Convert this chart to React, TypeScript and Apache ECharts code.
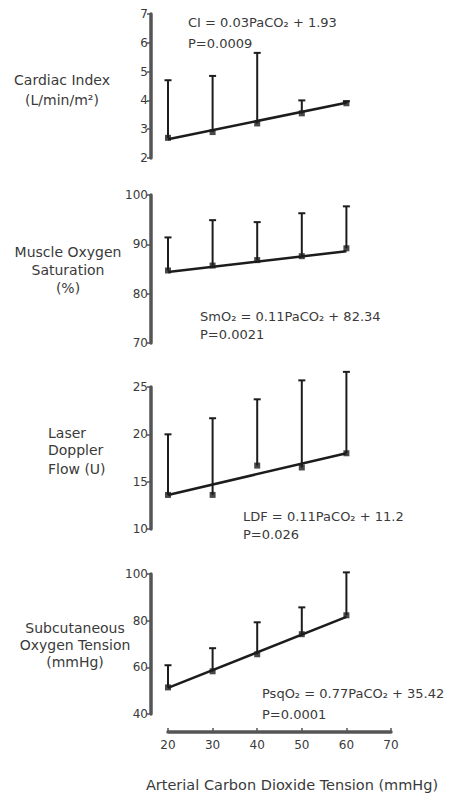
import React, { useEffect, useRef } from "react";
import * as echarts from "echarts";

const paco2 = [20, 30, 40, 50, 60];
const fitX = [20, 60];

const ciMean = [2.7, 2.9, 3.2, 3.55, 3.9];
const ciUpper = [4.7, 4.85, 5.65, 4.0, 3.97];
const ciFit = [2.65, 3.92];

const smoMean = [84.7, 85.7, 86.8, 87.6, 89.2];
const smoUpper = [91.4, 94.9, 94.5, 96.3, 97.7];
const smoFit = [84.4, 88.6];

const ldfMean = [13.6, 13.6, 16.7, 16.5, 18.0];
const ldfUpper = [20.0, 21.7, 23.7, 25.7, 26.6];
const ldfFit = [13.6, 18.0];

const psqMean = [51.4, 58.3, 65.6, 74.2, 82.3];
const psqUpper = [60.9, 68.2, 79.3, 85.7, 100.7];
const psqFit = [51.2, 81.6];

const FONT = "DejaVu Sans, Liberation Sans, sans-serif";
const TXT = "#3a3a3a";
const INK = "#1c1c1c";
const AXIS = "#555";

const panels = [
  { mean: ciMean, upper: ciUpper, fit: ciFit, min: 2, max: 7, interval: 1, top: 14, height: 144 },
  { mean: smoMean, upper: smoUpper, fit: smoFit, min: 70, max: 100, interval: 10, top: 195, height: 148 },
  { mean: ldfMean, upper: ldfUpper, fit: ldfFit, min: 10, max: 25, interval: 5, top: 387, height: 142 },
  { mean: psqMean, upper: psqUpper, fit: psqFit, min: 40, max: 100, interval: 20, top: 574, height: 140 },
];

function txt(text: string, x: number, y: number, align: string, size = 13) {
  return {
    type: "text",
    x,
    y,
    style: {
      text,
      fill: TXT,
      font: `${size}px ${FONT}`,
      textAlign: align,
      textVerticalAlign: "middle",
      verticalAlign: "middle",
    },
  };
}

export default function App() {
  const ref = useRef<HTMLDivElement>(null);
  useEffect(() => {
    if (!ref.current) return;
    const chart = echarts.init(ref.current, null, { renderer: "svg" });
    const grid: any[] = [];
    const xAxis: any[] = [];
    const yAxis: any[] = [];
    const series: any[] = [];
    panels.forEach((p, i) => {
      grid.push({ left: 168, width: 223, top: p.top, height: p.height });
      const last = i === panels.length - 1;
      xAxis.push({
        gridIndex: i,
        type: "value",
        min: 20,
        max: 70,
        interval: 10,
        show: last,
        offset: last ? 18 : 0,
        axisLine: { show: true, lineStyle: { color: AXIS, width: 3.5 } },
        axisTick: { show: true, inside: true, length: 4, lineStyle: { color: AXIS, width: 1.5 } },
        axisLabel: { color: TXT, fontSize: 12, fontFamily: FONT, margin: 7 },
        splitLine: { show: false },
      });
      yAxis.push({
        gridIndex: i,
        type: "value",
        min: p.min,
        max: p.max,
        interval: p.interval,
        offset: 17,
        axisLine: { show: true, lineStyle: { color: AXIS, width: 3.5 } },
        axisTick: { show: true, length: 4, lineStyle: { color: AXIS, width: 1.5 } },
        axisLabel: { color: TXT, fontSize: 12, fontFamily: FONT, margin: 3 },
        splitLine: { show: false },
      });
      series.push({
        type: "custom",
        xAxisIndex: i,
        yAxisIndex: i,
        clip: false,
        data: paco2.map((x, k) => [x, p.mean[k], p.upper[k]]),
        encode: { x: 0, y: [1, 2] },
        renderItem: (params: any, api: any) => {
          const x = api.value(0);
          const p1 = api.coord([x, api.value(1)]);
          const p2 = api.coord([x, api.value(2)]);
          const st = { stroke: INK, lineWidth: 2 };
          return {
            type: "group",
            children: [
              { type: "line", shape: { x1: p1[0], y1: p1[1], x2: p2[0], y2: p2[1] }, style: st },
              { type: "line", shape: { x1: p2[0] - 3.5, y1: p2[1], x2: p2[0] + 3.5, y2: p2[1] }, style: st },
            ],
          };
        },
      });
      series.push({
        type: "line",
        xAxisIndex: i,
        yAxisIndex: i,
        clip: false,
        symbol: "none",
        data: fitX.map((x, k) => [x, p.fit[k]]),
        lineStyle: { color: INK, width: 2.5 },
      });
      series.push({
        type: "scatter",
        xAxisIndex: i,
        yAxisIndex: i,
        clip: false,
        symbol: "rect",
        symbolSize: 6,
        data: paco2.map((x, k) => [x, p.mean[k]]),
        itemStyle: { color: INK },
      });
    });

    const graphic = [
      txt("Cardiac Index", 62, 80, "center", 14),
      txt("(L/min/m²)", 62, 100, "center", 14),
      txt("CI = 0.03PaCO₂ + 1.93", 188, 22, "left"),
      txt("P=0.0009", 188, 43, "left"),
      txt("Muscle Oxygen", 68, 252, "center", 14),
      txt("Saturation", 68, 270, "center", 14),
      txt("(%)", 68, 288, "center", 14),
      txt("SmO₂ = 0.11PaCO₂ + 82.34", 200, 316, "left"),
      txt("P=0.0021", 200, 334, "left"),
      txt("Laser", 48, 433, "left", 14),
      txt("Doppler", 48, 450, "left", 14),
      txt("Flow (U)", 48, 469, "left", 14),
      txt("LDF = 0.11PaCO₂ + 11.2", 243, 516, "left"),
      txt("P=0.026", 243, 534, "left"),
      txt("Subcutaneous", 75, 628, "center", 14),
      txt("Oxygen Tension", 75, 645, "center", 14),
      txt("(mmHg)", 75, 662, "center", 14),
      txt("PsqO₂ = 0.77PaCO₂ + 35.42", 262, 693, "left"),
      txt("P=0.0001", 262, 714, "left"),
      txt("Arterial Carbon Dioxide Tension (mmHg)", 292, 785, "center", 14.5),
    ];

    chart.setOption({
      animation: false,
      backgroundColor: "#fff",
      grid,
      xAxis,
      yAxis,
      series,
      graphic,
    });
    return () => chart.dispose();
  }, []);
  return (
    <div
      ref={ref}
      style={{ position: "absolute", left: 0, top: 0, width: 460, height: 795 }}
    />
  );
}
